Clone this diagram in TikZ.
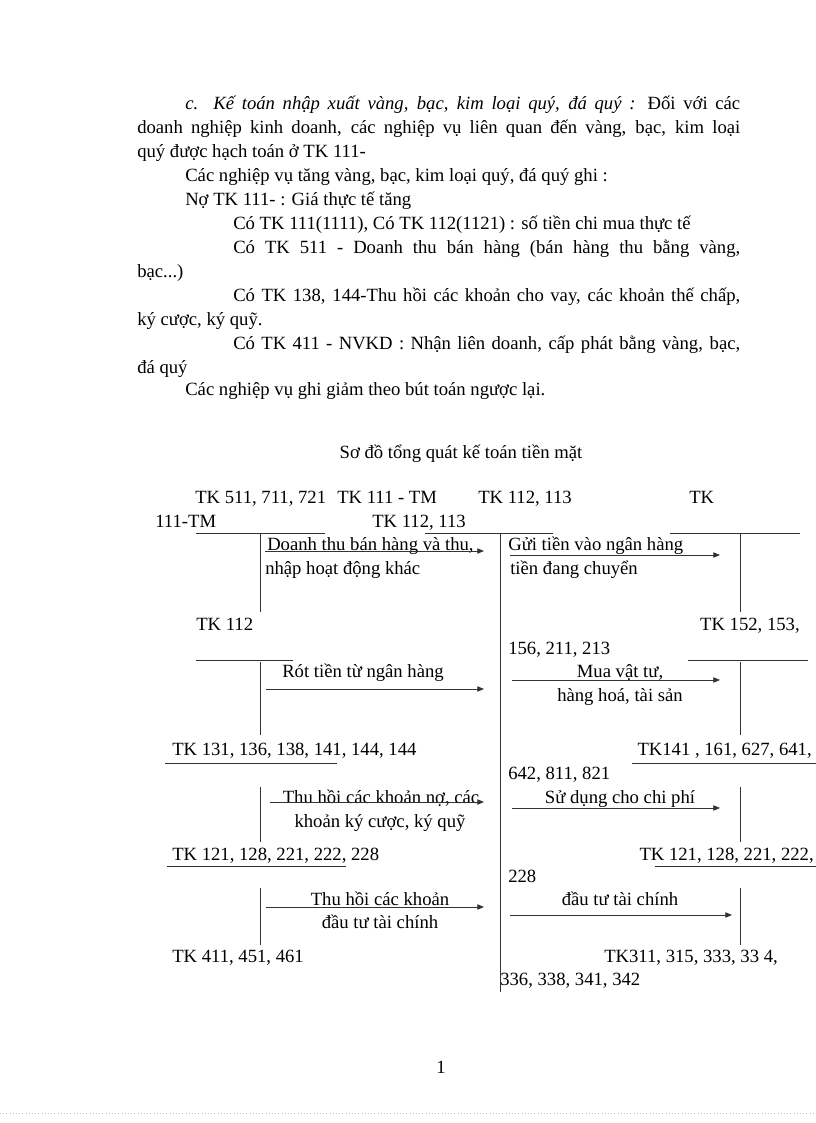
\documentclass[tikz,border=0pt]{standalone}
\usepackage{fontspec}
\setmainfont{Liberation Serif}
\usetikzlibrary{arrows.meta}
\begin{document}
\begin{tikzpicture}[x=0.75pt,y=-0.75pt,font=\fontsize{14}{16}\selectfont,
  txt/.style={anchor=base west,inner sep=0pt},
  txc/.style={anchor=base,inner sep=0pt},
  txr/.style={anchor=base east,inner sep=0pt},
  ln/.style={line width=0.6pt,black!80},
  arr/.style={line width=0.6pt,black!80,-{Triangle[length=5pt,width=4pt]}}]
\useasboundingbox (0,0) rectangle (816,1123);
% paragraph
\node[txt] (p1) at (185,110) {\makebox[555\dimexpr0.75pt][s]{\textit{c. Kế toán nhập xuất vàng, bạc, kim loại quý, đá quý :} Đối với các}};
\node[txt] (p2) at (137,134) {\makebox[603\dimexpr0.75pt][s]{doanh nghiệp kinh doanh, các nghiệp vụ liên quan đến vàng, bạc, kim loại}};
\node[txt] (p3) at (137,158) {quý được hạch toán ở TK 111-};
\node[txt] (p4) at (185,182) {Các nghiệp vụ tăng vàng, bạc, kim loại quý, đá quý ghi :};
\node[txt] (p5) at (185,205) {Nợ TK 111- : Giá thực tế tăng};
\node[txt] (p6) at (233,229) {Có TK 111(1111), Có TK 112(1121) : số tiền chi mua thực tế};
\node[txt] (p7) at (233,253) {\makebox[507\dimexpr0.75pt][s]{Có TK 511 - Doanh thu bán hàng (bán hàng thu bằng vàng,}};
\node[txt] (p8) at (137,277) {bạc...)};
\node[txt] (p9) at (233,301) {\makebox[507\dimexpr0.75pt][s]{Có TK 138, 144-Thu hồi các khoản cho vay, các khoản thế chấp,}};
\node[txt] (p10) at (137,325) {ký cược, ký quỹ.};
\node[txt] (p11) at (233,349) {\makebox[507\dimexpr0.75pt][s]{Có TK 411 - NVKD : Nhận liên doanh, cấp phát bằng vàng, bạc,}};
\node[txt] (p12) at (137,373) {đá quý};
\node[txt] (p13) at (185,395) {Các nghiệp vụ ghi giảm theo bút toán ngược lại.};
% title
\node[txc] (title) at (461,458) {Sơ đồ tổng quát kế toán tiền mặt};
% headers
\node[txt] (h1) at (195,503) {TK 511, 711, 721};
\node[txt] (h2) at (337,503) {TK 111 - TM};
\node[txt] (h3) at (478,503) {TK 112, 113};
\node[txt] (h4) at (689,503) {TK};
\node[txt] (h5) at (155,527) {111-TM};
\node[txt] (h6) at (372,527) {TK 112, 113};
% T lines row 1
\coordinate (a1) at (196,533); \coordinate (a2) at (325,533);
\coordinate (b1) at (425,533); \coordinate (b2) at (553,533);
\coordinate (c1) at (670,533); \coordinate (c2) at (800,533);
\draw[ln] (a1)--(a2); \draw[ln] (b1)--(b2); \draw[ln] (c1)--(c2);
\coordinate (m1) at (500,533); \coordinate (m2) at (500,992);
\draw[ln] (m1)--(m2);
% verticals
\foreach \t/\b [count=\i] in {533/612,662/735,787/842,888/945}{
  \coordinate (lv\i a) at (260,\t); \coordinate (lv\i b) at (260,\b);
  \draw[ln] (lv\i a)--(lv\i b);
  \coordinate (rv\i a) at (740,\t); \coordinate (rv\i b) at (740,\b);
  \draw[ln] (rv\i a)--(rv\i b);}
% row 1 labels
\node[txt] (l1a) at (267,550) {Doanh thu bán hàng và thu,};
\node[txt] (l1b) at (265,574) {nhập hoạt động khác};
\coordinate (la1s) at (265,551); \coordinate (la1e) at (484,551);
\draw[arr] (la1s)--(la1e);
\node[txt] (r1a) at (508,550) {Gửi tiền vào ngân hàng};
\node[txt] (r1b) at (510,574) {tiền đang chuyển};
\coordinate (ra1s) at (510,555); \coordinate (ra1e) at (720,555);
\draw[arr] (ra1s)--(ra1e);
% row 2
\node[txt] (k1) at (196,630) {TK 112};
\node[txr] (k2) at (800,630) {TK 152, 153,};
\node[txt] (k3) at (508,654) {156, 211, 213};
\coordinate (d1) at (196,660); \coordinate (d2) at (293,660);
\coordinate (e1) at (688,660); \coordinate (e2) at (808,660);
\draw[ln] (d1)--(d2); \draw[ln] (e1)--(e2);
\node[txc] (l2a) at (363,677) {Rót tiền từ ngân hàng};
\coordinate (la2s) at (266,689); \coordinate (la2e) at (484,689);
\draw[arr] (la2s)--(la2e);
\node[txc] (r2a) at (620,677) {Mua vật tư,};
\node[txc] (r2b) at (620,701) {hàng hoá, tài sản};
\coordinate (ra2s) at (512,680); \coordinate (ra2e) at (720,680);
\draw[arr] (ra2s)--(ra2e);
% row 3
\node[txt] (k4) at (172,755) {TK 131, 136, 138, 141, 144, 144};
\coordinate (f1) at (165,763); \coordinate (f2) at (337,763); \draw[ln] (f1)--(f2);
\node[txr] (k5) at (812,755) {TK141 , 161, 627, 641,};
\coordinate (g1) at (632,763); \coordinate (g2) at (816,763); \draw[ln] (g1)--(g2);
\node[txt] (k6) at (508,779) {642, 811, 821};
\node[txc] (l3a) at (381,803) {Thu hồi các khoản nợ, các};
\node[txc] (l3b) at (380,827) {khoản ký cược, ký quỹ};
\coordinate (la3s) at (270,802); \coordinate (la3e) at (484,802);
\draw[arr] (la3s)--(la3e);
\node[txc] (r3a) at (620,803) {Sử dụng cho chi phí};
\coordinate (ra3s) at (512,808); \coordinate (ra3e) at (720,808);
\draw[arr] (ra3s)--(ra3e);
% row 4
\node[txt] (k7) at (172,860) {TK 121, 128, 221, 222, 228};
\coordinate (h1a) at (167,866); \coordinate (h1b) at (346,866); \draw[ln] (h1a)--(h1b);
\node[txr] (k8) at (814,860) {TK 121, 128, 221, 222,};
\coordinate (i1) at (655,866); \coordinate (i2) at (816,866); \draw[ln] (i1)--(i2);
\node[txt] (k9) at (508,882) {228};
\node[txc] (l4a) at (380,905) {Thu hồi các khoản};
\node[txc] (l4b) at (380,928) {đầu tư tài chính};
\coordinate (la4s) at (266,907); \coordinate (la4e) at (484,907);
\draw[arr] (la4s)--(la4e);
\node[txc] (r4a) at (620,905) {đầu tư tài chính};
\coordinate (ra4s) at (510,915); \coordinate (ra4e) at (732,915);
\draw[arr] (ra4s)--(ra4e);
% bottom
\node[txt] (k10) at (172,962) {TK 411, 451, 461};
\node[txt] (k11) at (604,962) {TK311, 315, 333, 33 4,};
\node[txt] (k12) at (500,985) {336, 338, 341, 342};
\node[txc] (pg) at (441,1073) {1};
\coordinate (z1) at (0,1113); \coordinate (z2) at (816,1113);
\draw[black!25,dotted] (z1)--(z2);
\end{tikzpicture}
\end{document}
